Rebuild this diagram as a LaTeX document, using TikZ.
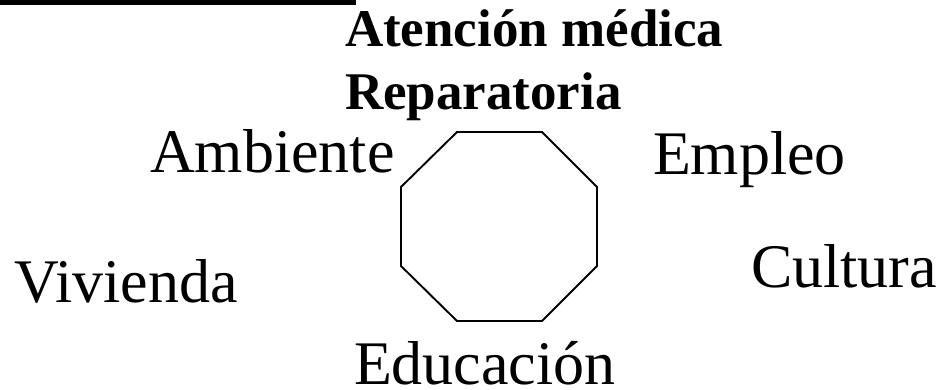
\documentclass[tikz,border=0pt]{standalone}
\usepackage{fontspec}
\setmainfont{Liberation Serif}
\tikzset{
  lbl/.style={anchor=base west, inner sep=0pt, outer sep=0pt, font=\fontsize{62}{62}\selectfont},
  blbl/.style={anchor=base west, inner sep=0pt, outer sep=0pt, font=\fontsize{53}{53}\selectfont\bfseries},
  octo/.style={draw=black, line width=1.9pt, line join=miter}
}
\begin{document}
\begin{tikzpicture}[x=1pt, y=-1pt]
\useasboundingbox (0,0) rectangle (944,390);
\fill[black] (0,0) rectangle (356,4.8);
\node[blbl] (att) at (345,47) {Atención médica};
\node[blbl] (rep) at (345,110) {Reparatoria};
\node[lbl] (amb) at (150,173) {Ambiente};
\node[lbl] (emp) at (653,175) {Empleo};
\node[lbl] (viv) at (14,302) {Vivienda};
\node[lbl] (cul) at (751,287) {Cultura};
\node[lbl] (edu) at (354,384) {Educación};
\draw[octo] (457,132) -- (542,132) -- (597,187) -- (597,266) -- (542,321) -- (457,321) -- (401,266) -- (401,187) -- cycle;
\end{tikzpicture}
\end{document}
